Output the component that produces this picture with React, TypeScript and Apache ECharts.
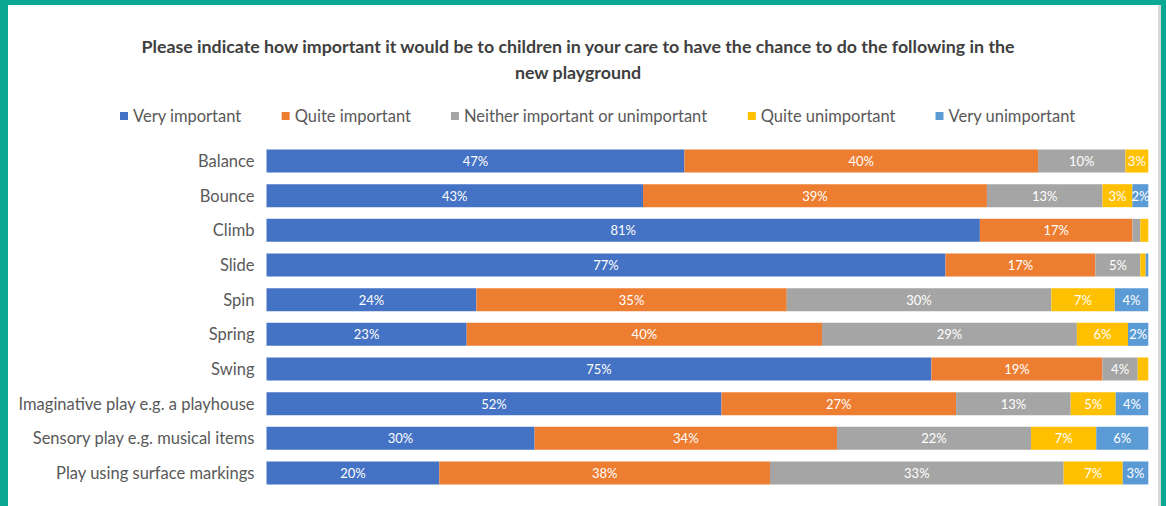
import React, { useEffect, useRef } from "react";
import * as echarts from "echarts";

const categories = [
  "Balance",
  "Bounce",
  "Climb",
  "Slide",
  "Spin",
  "Spring",
  "Swing",
  "Imaginative play e.g. a playhouse",
  "Sensory play e.g. musical items",
  "Play using surface markings",
];
const seriesNames = [
  "Very important",
  "Quite important",
  "Neither important or unimportant",
  "Quite unimportant",
  "Very unimportant",
];
const veryImportant = [47.4, 42.7, 80.9, 77.0, 23.8, 22.7, 75.4, 51.6, 30.4, 19.6];
const quiteImportant = [40.1, 39.0, 17.3, 17.0, 35.2, 40.3, 19.4, 26.6, 34.3, 37.5];
const neither = [9.9, 13.1, 0.9, 5.1, 30.0, 28.9, 4.0, 13.0, 22.0, 33.3];
const quiteUnimportant = [2.6, 3.4, 0.9, 0.6, 7.2, 5.8, 1.2, 5.1, 7.4, 6.7];
const veryUnimportant = [0, 1.8, 0, 0.3, 3.8, 2.3, 0, 3.7, 5.9, 2.9];
const colors = ["#4472C4", "#ED7D31", "#A5A5A5", "#FFC000", "#5B9BD5"];
const titleText =
  "Please indicate how important it would be to children in your care to have the chance to do the following in the\nnew playground";

export default function App() {
  const ref = useRef<HTMLDivElement>(null);
  useEffect(() => {
    if (!ref.current) return;
    const chart = echarts.init(ref.current, null, { renderer: "svg" });
    const allData = [veryImportant, quiteImportant, neither, quiteUnimportant, veryUnimportant];
    chart.setOption({
      animation: false,
      backgroundColor: "#ffffff",
      textStyle: { fontFamily: "Lato" },
      graphic: [
        { type: "rect", shape: { x: 0, y: 0, width: 8, height: 506 }, style: { fill: "#0BA893" }, silent: true },
        { type: "rect", shape: { x: 0, y: 0, width: 1166, height: 5 }, style: { fill: "#0BA893" }, silent: true },
        { type: "rect", shape: { x: 1161, y: 0, width: 5, height: 506 }, style: { fill: "#0BA893" }, silent: true },
        { type: "rect", shape: { x: 1158, y: 5, width: 3, height: 501 }, style: { fill: "#D9D9D9" }, silent: true },
        {
          type: "text",
          x: 578,
          y: 33,
          style: {
            text: titleText,
            textAlign: "center",
            textVerticalAlign: "top",
            font: "bold 17.8px Lato",
            fill: "#404040",
            lineHeight: 26,
          },
        },
      ],
      legend: {
        left: 115,
        top: 101,
        itemWidth: 8,
        itemHeight: 8,
        itemGap: 40,
        icon: "rect",
        textStyle: { color: "#595959", fontSize: 16.5, fontFamily: "Lato", lineHeight: 20 },
        data: seriesNames,
      },
      grid: { left: 266.5, right: 17.7, top: 143.7, bottom: 15.7 },
      xAxis: {
        type: "value",
        min: 0,
        max: 100,
        show: false,
      },
      yAxis: {
        type: "category",
        inverse: true,
        data: categories,
        axisLine: { show: false },
        axisTick: { show: false },
        axisLabel: { color: "#595959", fontSize: 16.5, fontFamily: "Lato", margin: 12 },
      },
      series: seriesNames.map((name, i) => ({
        name,
        type: "bar",
        stack: "total",
        barWidth: 23,
        data: allData[i],
        itemStyle: { color: colors[i] },
        label: {
          show: true,
          position: "inside",
          color: "#ffffff",
          fontSize: 13,
          fontFamily: "Lato",
          formatter: (p: any) => (p.value < 1.5 ? "" : Math.round(p.value) + "%"),
        },
      })),
    });
    return () => chart.dispose();
  }, []);
  return (
    <div
      ref={ref}
      style={{ position: "fixed", left: 0, top: 0, width: 1166, height: 506 }}
    />
  );
}
